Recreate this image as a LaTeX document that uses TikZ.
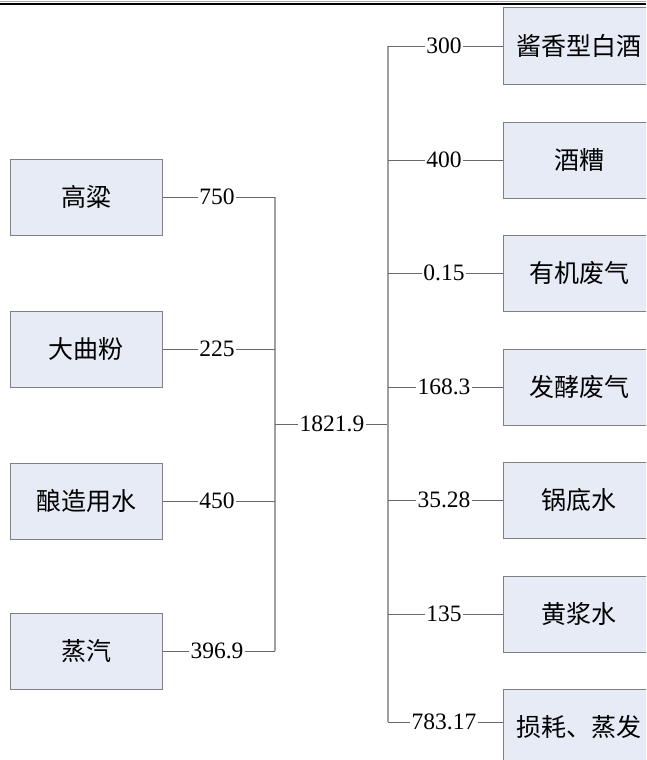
\documentclass[tikz,border=0pt]{standalone}
\usepackage{fontspec}
\setmainfont{Liberation Serif}
\newfontfamily\cjk{Noto Sans CJK SC}
\definecolor{boxfill}{RGB}{230,235,246}
\definecolor{boxline}{RGB}{128,128,128}
\definecolor{linecol}{RGB}{105,105,105}
\definecolor{trunkcol}{RGB}{160,160,160}
\begin{document}
\begin{tikzpicture}[x=1pt,y=-1pt,
  box/.style={draw=boxline, fill=boxfill, line width=1pt, minimum width=152pt, minimum height=76pt, inner sep=0pt, font=\cjk\fontsize{25}{25}\selectfont},
  val/.style={fill=white, inner sep=1pt, font=\fontsize{23.5}{23.5}\selectfont},
  conn/.style={draw=linecol, line width=0.9pt},
  trunk/.style={draw=trunkcol, line width=2pt}]
\useasboundingbox (0,0) rectangle (646,760);
\clip (0,0) rectangle (646,760);
\fill[white] (0,0) rectangle (646,760);
% top rule
\draw[line width=0.8pt, gray!70] (0,1.8) -- (646,1.8);
\draw[line width=2.5pt, black] (0,3.8) -- (646,3.8);

% left boxes
\node[box] (in1) at (86,197) {高粱};
\node[box] (in2) at (86,349) {大曲粉};
\node[box] (in3) at (86,501) {酿造用水};
\node[box] (in4) at (86,651) {蒸汽};

\node[val] (v1) at (217,197) {750};
\node[val] (v2) at (217,349) {225};
\node[val] (v3) at (217,501) {450};
\node[val] (v4) at (217,651) {396.9};

\coordinate (jl1) at (275,197);
\coordinate (jl2) at (275,349);
\coordinate (jl3) at (275,501);
\coordinate (jl4) at (275,651);
\coordinate (jm) at (275,424);
\coordinate (jr) at (388,424);

\draw[trunk] (jl1) -- (jl4);
\foreach \i in {1,2,3,4}{
  \draw[conn] (in\i.east) -- (v\i.west);
  \draw[conn] (v\i.east) -- (jl\i);
}
\node[val] (tot) at (332,424) {1821.9};
\draw[conn] (jm) -- (tot.west);
\draw[conn] (tot.east) -- (jr);

% right boxes
\node[box] (o1) at (579,46) {酱香型白酒};
\node[box] (o2) at (579,160) {酒糟};
\node[box] (o3) at (579,273) {有机废气};
\node[box] (o4) at (579,387) {发酵废气};
\node[box] (o5) at (579,500) {锅底水};
\node[box] (o6) at (579,614) {黄浆水};
\node[box] (o7) at (579,727) {损耗、蒸发};

\node[val] (w1) at (444,46) {300};
\node[val] (w2) at (444,160) {400};
\node[val] (w3) at (444,273) {0.15};
\node[val] (w4) at (444,387) {168.3};
\node[val] (w5) at (444,500) {35.28};
\node[val] (w6) at (444,614) {135};
\node[val] (w7) at (444,722) {783.17};

\coordinate (jr1) at (388,46);
\coordinate (jr2) at (388,160);
\coordinate (jr3) at (388,273);
\coordinate (jr4) at (388,387);
\coordinate (jr5) at (388,500);
\coordinate (jr6) at (388,614);
\coordinate (jr7) at (388,722);

\draw[trunk] (jr1) -- (jr7);
\foreach \i in {1,...,7}{
  \draw[conn] (jr\i) -- (w\i.west);
  \draw[conn] (w\i.east) -- (w\i.east -| o\i.west);
}
\end{tikzpicture}
\end{document}
